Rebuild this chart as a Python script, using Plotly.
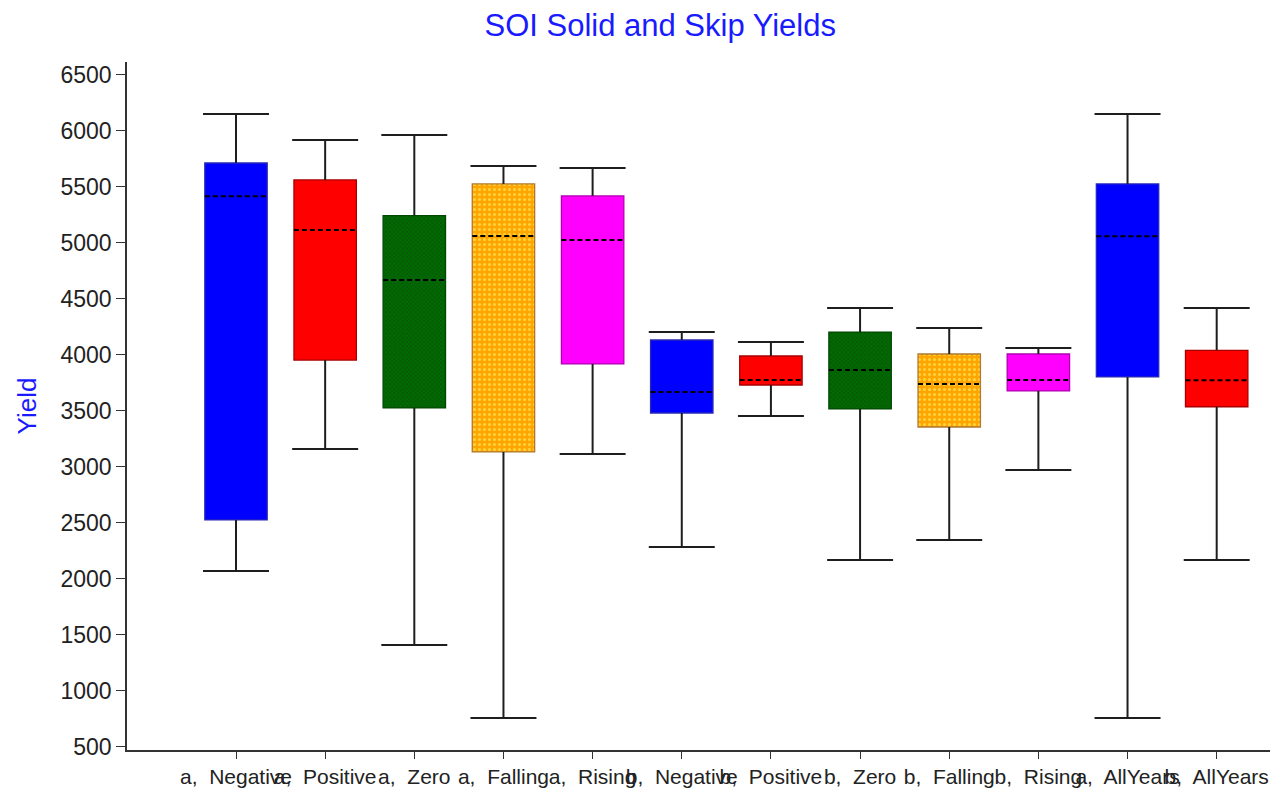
import plotly.graph_objects as go

categories = ["a,  Negative", "a,  Positive", "a,  Zero", "a,  Falling", "a,  Rising",
              "b,  Negative", "b,  Positive", "b,  Zero", "b,  Falling", "b,  Rising",
              "a,  AllYears", "b,  AllYears"]
upper_whisker = [6152, 5920, 5964, 5688, 5670, 4205, 4116, 4420, 4241, 4062, 6152, 4420]
q3_values = [5714, 5563, 5245, 5527, 5420, 4134, 3991, 4205, 4009, 4009, 5527, 4042]
median_values = [5418, 5116, 4670, 5063, 5027, 3670, 3777, 3866, 3741, 3777, 5060, 3774]
q1_values = [2527, 3955, 3527, 3134, 3920, 3482, 3732, 3518, 3357, 3679, 3804, 3538]
lower_whisker = [2071, 3161, 1411, 759, 3116, 2286, 3455, 2170, 2348, 2973, 759, 2170]

fill_colors = ["#0000FF", "#FF0000", "#006C00", "#FFA500", "#FF00FF",
               "#0000FF", "#FF0000", "#006C00", "#FFA500", "#FF00FF",
               "#0000FF", "#FF0000"]
edge_colors = ["#2828B8", "#A80000", "#004800", "#B07830", "#B000B0",
               "#2828B8", "#A80000", "#004800", "#B07830", "#B000B0",
               "#2828B8", "#A80000"]
pattern_shapes = ["", "", "x", ".", "", "", "", "x", ".", "", "", ""]

positions = list(range(len(categories)))
box_w = 0.70
cap_w = 0.74

fig = go.Figure()

# box bodies, grouped by fill pattern
pattern_styles = {
    "": None,
    "x": dict(shape="x", fgcolor="#0B4E0B", fgopacity=1, size=3, solidity=0.35,
              fillmode="overlay"),
    ".": dict(shape=".", fgcolor="#FFD23A", fgopacity=1, size=5, solidity=0.3,
              fillmode="overlay"),
}
for shape, pstyle in pattern_styles.items():
    idx = [i for i, s in enumerate(pattern_shapes) if s == shape]
    if pstyle:
        marker = dict(color=fill_colors[idx[0]],
                      line=dict(color=edge_colors[idx[0]], width=1.3),
                      pattern=pstyle)
    else:
        marker = dict(color=[fill_colors[i] for i in idx],
                      line=dict(color=[edge_colors[i] for i in idx], width=1.3))
    fig.add_trace(go.Bar(
        x=[positions[i] for i in idx],
        y=[q3_values[i] - q1_values[i] for i in idx],
        base=[q1_values[i] for i in idx],
        width=box_w,
        marker=marker,
        showlegend=False,
    ))

# whiskers and caps
wx, wy = [], []
for p, lo, a, b, hi in zip(positions, lower_whisker, q1_values, q3_values, upper_whisker):
    wx += [p, p, None, p, p, None,
           p - cap_w / 2, p + cap_w / 2, None, p - cap_w / 2, p + cap_w / 2, None]
    wy += [b, hi, None, a, lo, None, hi, hi, None, lo, lo, None]
fig.add_trace(go.Scatter(
    x=wx, y=wy, mode="lines",
    line=dict(color="#1e1e1e", width=2),
    showlegend=False, hoverinfo="skip",
))

# dashed medians
mx, my = [], []
for p, m in zip(positions, median_values):
    mx += [p - box_w / 2, p + box_w / 2, None]
    my += [m, m, None]
fig.add_trace(go.Scatter(
    x=mx, y=my, mode="lines",
    line=dict(color="black", width=2, dash="5px,3px"),
    showlegend=False, hoverinfo="skip",
))

fig.update_layout(
    width=1287, height=789,
    margin=dict(l=127, r=17, t=62, b=39),
    paper_bgcolor="white", plot_bgcolor="white",
    barmode="overlay",
    font=dict(family="Liberation Sans, Arial, sans-serif", color="#222222"),
    title=dict(text="SOI Solid and Skip Yields", x=0.513, xanchor="center",
               y=0.968, yanchor="middle",
               font=dict(size=31, color="#1a1aff", family="Liberation Sans, Arial, sans-serif")),
    xaxis=dict(
        range=[-1.2226, 11.598], tickmode="array", tickvals=positions, ticktext=categories,
        tickangle=0, showline=True, linecolor="#333333", linewidth=1.6,
        ticks="outside", ticklen=7, tickcolor="#333333", tickwidth=1.4,
        showgrid=False, zeroline=False, automargin=False,
        tickfont=dict(size=21, color="#222222"),
    ),
    yaxis=dict(
        range=[473, 6616], tickmode="array",
        tickvals=[500, 1000, 1500, 2000, 2500, 3000, 3500, 4000, 4500, 5000, 5500, 6000, 6500],
        showline=True, linecolor="#333333", linewidth=1.6,
        ticks="outside", ticklen=9, tickcolor="#333333", tickwidth=1.4,
        showgrid=False, zeroline=False, automargin=False,
        tickfont=dict(size=23, color="#222222"),
        title=dict(text="Yield", font=dict(size=26, color="#1a1aff"), standoff=16),
    ),
)

fig.write_html("out.html", config={"displayModeBar": False},
               post_script="document.body.style.margin='0';document.body.style.overflow='hidden';")
